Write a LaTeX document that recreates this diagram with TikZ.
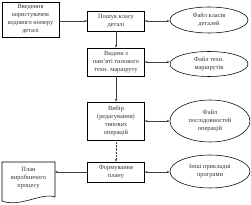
\documentclass[tikz,border=0pt]{standalone}
\usepackage{fontspec}
\setmainfont{Liberation Serif}
\usetikzlibrary{shapes.geometric,arrows.meta}
\begin{document}
\begin{tikzpicture}[x=1pt,y=-1pt,
  txt/.style={font=\fontsize{6.4}{8}\selectfont, align=center, text=black!80},
  box/.style={draw, line width=0.55pt, txt, inner sep=0pt},
  oval/.style={draw, ellipse, line width=0.55pt, txt, inner sep=0pt},
  arr/.style={-{Stealth[length=3pt,width=2.4pt]}, line width=0.45pt, black!75},
  darr/.style={{Stealth[length=3pt,width=2.4pt]}-{Stealth[length=3pt,width=2.4pt]}, line width=0.45pt, black!75}]
\useasboundingbox (0,0) rectangle (251,205);
\node[box, minimum width=57pt, minimum height=35pt] (inp) at (30.5,19.5) {Введення\\користувачем\\кодового номеру\\деталі};
\node[box, minimum width=57pt, minimum height=20pt] (b2) at (116,21) {Пошук класу\\деталі};
\node[box, minimum width=57pt, minimum height=28pt] (b3) at (116,62) {Видача з\\пам'яті типового\\техн. маршруту};
\node[box, minimum width=57pt, minimum height=38pt] (b4) at (116,121) {Вибір\\(редагування)\\типових\\операцій};
\node[box, minimum width=57pt, minimum height=20pt] (b5) at (116,172) {Формування\\плану};
\node[oval, minimum width=78pt, minimum height=26pt] (e1) at (209,20) {Файл класів\\деталей};
\node[oval, minimum width=78pt, minimum height=25pt] (e2) at (209,64) {Файл техн.\\маршрутів};
\node[oval, minimum width=80pt, minimum height=42pt] (e3) at (210,121) {Файл\\послідовностей\\операцій};
\node[oval, minimum width=80pt, minimum height=33pt] (e4) at (210,171.5) {Інші прикладні\\програми};
\draw[line width=0.55pt] (2,162) -- (55,162) -- (55,197) .. controls (42,192) and (20,208) .. (2,201) -- cycle;
\node[txt] (doc) at (28.5,178) {План\\виробничого\\процесу};
\coordinate (docr) at (55,172);
\draw[arr] (inp.east |- b2.west) -- (b2.west);
\draw[darr] (b2.east) -- (e1.west |- b2.east);
\draw[arr] (b2) -- (b3);
\draw[darr] (b3.east) -- (e2.west |- b3.east);
\draw[arr] (b3) -- (b4);
\draw[darr] (b4.east) -- (e3.west |- b4.east);
\draw[arr, densely dotted] (b4) -- (b5);
\draw[darr] (b5.east) -- (e4.west |- b5.east);
\draw[arr] (b5.west) -- (docr);
\end{tikzpicture}
\end{document}
